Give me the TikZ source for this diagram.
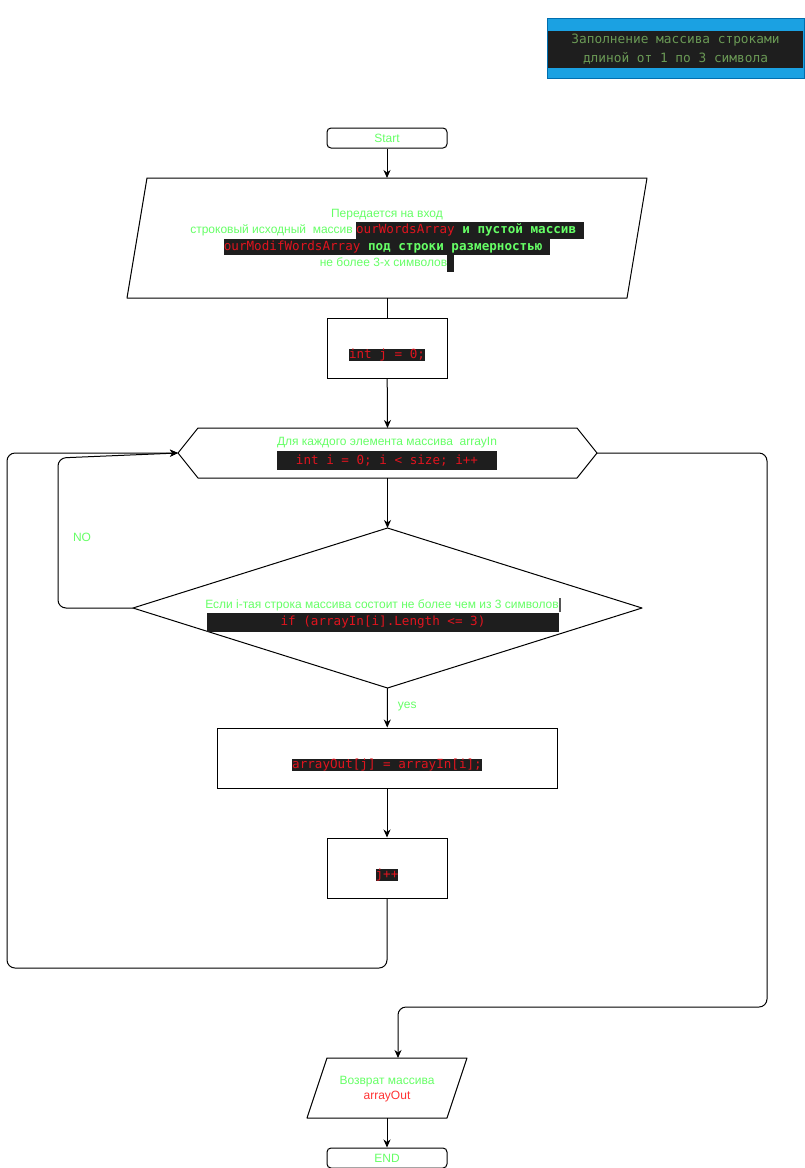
\documentclass[tikz,border=0pt]{standalone}
\usepackage{fontspec}
\setmainfont{Liberation Sans}
\newfontfamily\codefont{DejaVu Sans Mono}
\usetikzlibrary{arrows.meta}

\definecolor{lgreen}{HTML}{66FF66}
\definecolor{cred}{HTML}{E0141E}
\definecolor{tred}{HTML}{FF3333}
\definecolor{codebg}{HTML}{1E1E1E}
\definecolor{cmtgreen}{HTML}{6A9955}
\definecolor{titleblue}{HTML}{1BA1E2}
\definecolor{titleedge}{HTML}{006EAF}

\newcommand{\txtsize}{\fontsize{12}{16.5}\selectfont}
\newcommand{\codesize}{\fontsize{12.6}{16.5}\selectfont}
\newcommand{\cbx}[1]{{\setlength\fboxsep{0pt}\colorbox{codebg}{\codesize\strut#1}}}

\tikzset{
  flowline/.style={line width=1pt, line join=round},
  flowarrow/.style={flowline, -{Stealth[length=8pt,width=7pt,inset=2.5pt]}},
  plainbox/.style={draw, line width=1pt, inner sep=0pt},
  shapeframe/.style={inner sep=0pt, outer sep=0pt},
  greentext/.style={text=lgreen, font=\txtsize, inner sep=0pt},
  codetext/.style={text=cred, font=\codefont\codesize, fill=codebg, inner sep=0pt}
}

\begin{document}
\begin{tikzpicture}[x=1pt, y=-1pt]
\useasboundingbox (0,0) rectangle (805,1168);

% title
\node[draw=titleedge, fill=titleblue, line width=1pt, minimum width=257pt, minimum height=60pt, inner sep=0pt] (title) at (675.5,48) {};
\node[fill=codebg, minimum width=255pt, minimum height=37pt, inner sep=0pt, text=cmtgreen, align=center,
  font=\codefont\fontsize{12.8}{18.5}\selectfont] (titletxt) at (675.5,49) {Заполнение массива строками\\длиной от 1 по 3 символа};

% start
\node[plainbox, rounded corners=4pt, minimum width=120pt, minimum height=20pt, text=lgreen, font=\txtsize] (start) at (387,138) {Start};

% input
\node[shapeframe, minimum width=520pt, minimum height=120pt] (inp) at (387,238) {};
\draw[flowline] (inp.south west) -- ([xshift=20pt]inp.north west) -- (inp.north east) -- ([xshift=-20pt]inp.south east) -- cycle;
\node[greentext, align=center] (inptxt) at (387,240.5) {Передается на вход\\
строковый исходный\ \ массив \cbx{\codefont\textcolor{cred}{ourWordsArray}\textcolor{lgreen}{\bfseries\ и пустой массив\ }}\\
\cbx{\codefont\textcolor{cred}{ourModifWordsArray}\textcolor{lgreen}{\bfseries\ под строки размерностью\ }}\\
не более 3-х символов\cbx{\hspace{7pt}}};

% j = 0
\node[plainbox, minimum width=120pt, minimum height=60pt] (jinit) at (387,348) {};
\node[codetext] (jinittxt) at (387,355) {int j = 0;};

% loop
\node[shapeframe, minimum width=419pt, minimum height=50pt] (cyc) at (387.5,453) {};
\draw[flowline] (cyc.west) -- ([xshift=20pt]cyc.north west) -- ([xshift=-20pt]cyc.north east) -- (cyc.east)
  -- ([xshift=-20pt]cyc.south east) -- ([xshift=20pt]cyc.south west) -- cycle;
\node[greentext] (cyctxt) at (387,443) {Для каждого элемента массива\ \ arrayIn};
\node[codetext, minimum width=220pt, minimum height=19pt] (cyccode) at (387,460.5) {int i = 0; i < size; i++};

% condition
\node[shapeframe, minimum width=509pt, minimum height=160pt] (dia) at (387.5,608) {};
\draw[flowline] (dia.west) -- (dia.north) -- (dia.east) -- (dia.south) -- cycle;
\node[greentext] (diatxt) at (382,605) {Если i-тая строка массива состоит не более чем из 3 символов};
\fill[codebg!75!white] (diatxt.east) ++(0,-7) rectangle ++(2.5,14);
\node[codetext, minimum width=352pt, minimum height=19pt] (diacode) at (383,622.5) {if (arrayIn[i].Length <= 3)};

% copy
\node[plainbox, minimum width=340pt, minimum height=60pt] (copy) at (387,758) {};
\node[codetext] (copytxt) at (387,765) {arrayOut[j] = arrayIn[i];};

% j++
\node[plainbox, minimum width=120pt, minimum height=60pt] (jinc) at (387,868) {};
\node[codetext] (jinctxt) at (387,875) {j++};

% output
\node[shapeframe, minimum width=160pt, minimum height=60pt] (ret) at (387,1088) {};
\draw[flowline] (ret.south west) -- ([xshift=20pt]ret.north west) -- (ret.north east) -- ([xshift=-20pt]ret.south east) -- cycle;
\node[greentext, align=center, font=\fontsize{12}{15}\selectfont] (rettxt) at (387,1089) {Возврат массива\\\textcolor{tred}{arrayOut}};
\coordinate (retin) at (398,1058);

% end
\node[plainbox, rounded corners=4pt, minimum width=120pt, minimum height=20pt, text=lgreen, font=\txtsize] (finish) at (387,1158) {END};

% connectors
\draw[flowarrow] (start) -- (inp);
\draw[flowline] (inp) -- (jinit);
\draw[flowarrow] (jinit) -- (cyc.north);
\draw[flowarrow] (cyc.south) -- (dia.north);
\draw[flowarrow] (dia.south) -- (copy) node[pos=0.48, right=10pt, greentext] (yeslbl) {yes};
\draw[flowarrow] (copy) -- (jinc);
\draw[flowarrow, rounded corners=8pt] (dia.west) -- (58,608) -- (58,458) -- (cyc.west);
\node[greentext] (nolbl) at (82,537) {NO};
\draw[flowarrow, rounded corners=8pt] (jinc.south) -- (387,968) -- (7,968) -- (7,453) -- (cyc.west);
\draw[flowarrow, rounded corners=8pt] (cyc.east) -- (767,453) -- (767,1007) -- (398,1007) -- (retin);
\draw[flowarrow] (ret.south) -- (finish.north);
\end{tikzpicture}
\end{document}
